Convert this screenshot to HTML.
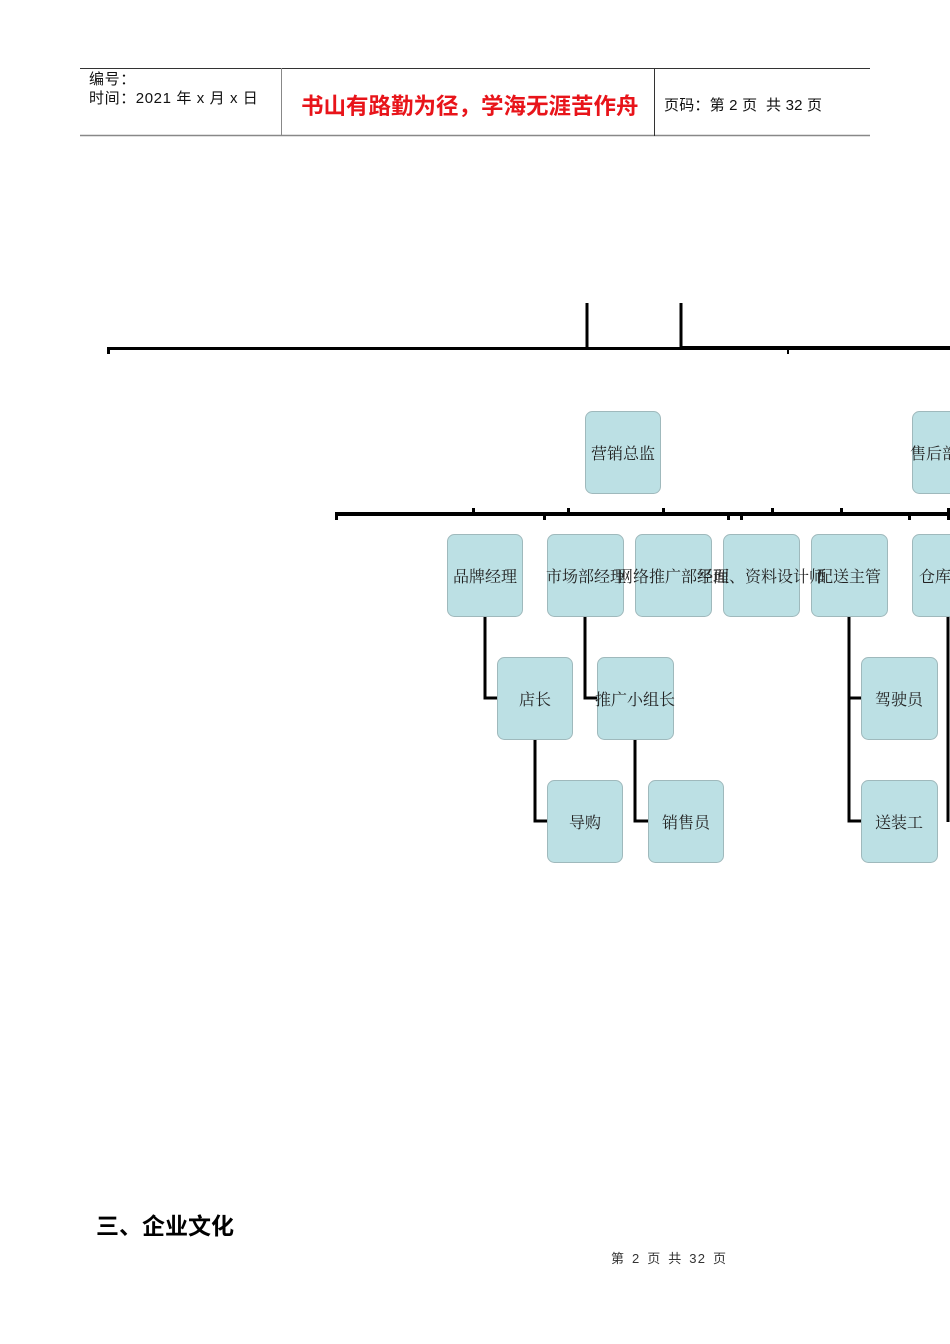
<!DOCTYPE html>
<html><head><meta charset="utf-8"><style>
html,body{margin:0;padding:0;background:#fff;}
body{width:950px;height:1344px;position:relative;overflow:hidden;font-family:"Liberation Sans","Noto Sans CJK SC",sans-serif;}
.t{position:absolute;white-space:nowrap;}
</style></head><body>
<svg width="950" height="1344" style="position:absolute;left:0;top:0" xmlns="http://www.w3.org/2000/svg">
<line x1="80" y1="68.5" x2="870" y2="68.5" stroke="#333" stroke-width="1"/>
<line x1="80" y1="135.5" x2="870" y2="135.5" stroke="#888" stroke-width="1.5"/>
<line x1="281.5" y1="68" x2="281.5" y2="136" stroke="#888" stroke-width="1"/>
<line x1="654.5" y1="68" x2="654.5" y2="136" stroke="#333" stroke-width="1"/>
<line x1="587" y1="303" x2="587" y2="348" stroke="#000" stroke-width="3"/>
<line x1="681" y1="303" x2="681" y2="348" stroke="#000" stroke-width="3"/>
<rect x="107" y="347" width="574" height="3" fill="#000"/>
<rect x="681" y="346" width="269" height="4" fill="#000"/>
<rect x="107" y="347" width="3" height="7" fill="#000"/>
<rect x="787" y="348" width="2" height="6" fill="#000"/>
<rect x="335" y="512" width="615" height="4" fill="#000"/>
<g fill="#000">
<rect x="335" y="512" width="3" height="8"/>
<rect x="472" y="508" width="3" height="6"/>
<rect x="543" y="512" width="3" height="8"/>
<rect x="567" y="508" width="3" height="6"/>
<rect x="662" y="508" width="3" height="6"/>
<rect x="727" y="512" width="3" height="8"/>
<rect x="740" y="512" width="3" height="8"/>
<rect x="771" y="508" width="3" height="6"/>
<rect x="840" y="508" width="3" height="6"/>
<rect x="908" y="512" width="3" height="8"/>
<rect x="947" y="508" width="3" height="12"/>
</g>
<g fill="none" stroke="#000" stroke-width="3">
<polyline points="485,616 485,698 497,698"/>
<polyline points="535,739 535,821 547,821"/>
<polyline points="585,616 585,698 597,698"/>
<polyline points="635,739 635,821 648,821"/>
<polyline points="849,616 849,821 861,821"/>
<line x1="849" y1="698" x2="861" y2="698"/>
<line x1="948" y1="616" x2="948" y2="822"/>
</g>
<g fill="#bce0e4" stroke="#9fb9bc" stroke-width="1">
<rect x="585.5" y="411.5" width="75" height="82" rx="7"/>
<rect x="912.5" y="411.5" width="75" height="82" rx="7"/>
<rect x="447.5" y="534.5" width="75" height="82" rx="7"/>
<rect x="547.5" y="534.5" width="76" height="82" rx="7"/>
<rect x="635.5" y="534.5" width="76" height="82" rx="7"/>
<rect x="723.5" y="534.5" width="76" height="82" rx="7"/>
<rect x="811.5" y="534.5" width="76" height="82" rx="7"/>
<rect x="912.5" y="534.5" width="76" height="82" rx="7"/>
<rect x="497.5" y="657.5" width="75" height="82" rx="7"/>
<rect x="597.5" y="657.5" width="76" height="82" rx="7"/>
<rect x="861.5" y="657.5" width="76" height="82" rx="7"/>
<rect x="547.5" y="780.5" width="75" height="82" rx="7"/>
<rect x="648.5" y="780.5" width="75" height="82" rx="7"/>
<rect x="861.5" y="780.5" width="76" height="82" rx="7"/>
</g>
<g font-family="'Liberation Serif','Noto Serif CJK SC',serif" font-size="16" fill="#222" text-anchor="middle">
<text x="623" y="459">营销总监</text>
<text x="485" y="582">品牌经理</text>
<text x="586" y="582">市场部经理</text>
<text x="673" y="582">网络推广部经理</text>
<text x="761" y="582">平面、资料设计师</text>
<text x="849" y="582">配送主管</text>
<text x="535" y="705">店长</text>
<text x="635" y="705">推广小组长</text>
<text x="899" y="705">驾驶员</text>
<text x="585" y="828">导购</text>
<text x="686" y="828">销售员</text>
<text x="899" y="828">送装工</text>
<text x="910" y="459" text-anchor="start">售后部</text>
<text x="919" y="582" text-anchor="start">仓库</text>
</g>
</svg>
<div class="t" style="left:89px;top:70px;font-size:15px;line-height:19px;color:#111;letter-spacing:0.6px;">编号：<br>时间：2021 年 x 月 x 日</div>
<div class="t" style="left:301px;top:89px;font-size:22.5px;color:#e8141a;font-weight:bold;">书山有路勤为径，学海无涯苦作舟</div>
<div class="t" style="left:664px;top:94px;font-size:15px;color:#111;letter-spacing:0.2px;">页码：第 2 页&nbsp; 共 32 页</div>
<div class="t" style="left:96px;top:1207px;font-size:23px;font-weight:bold;color:#000;">三、企业文化</div>
<div class="t" style="left:611px;top:1248px;font-size:13px;color:#333;letter-spacing:1.2px;word-spacing:2px;">第 2 页 共 32 页</div>
</body></html>
